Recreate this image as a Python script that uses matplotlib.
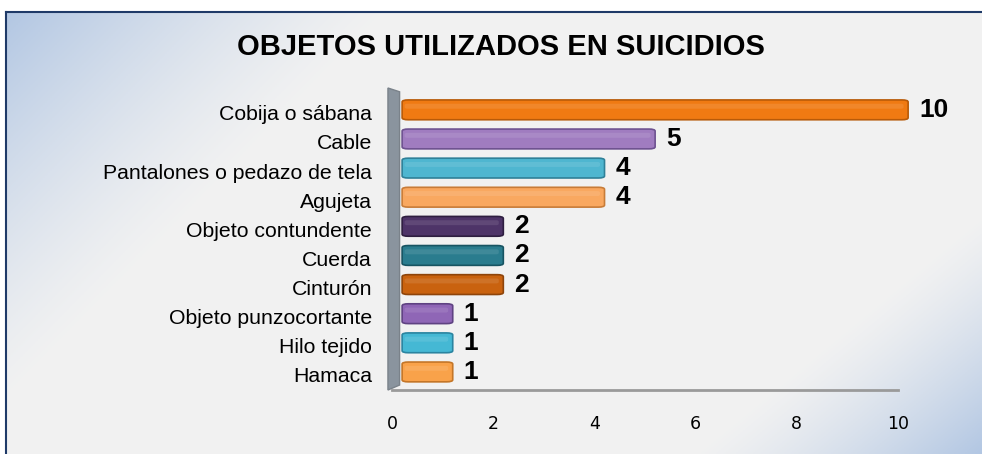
import matplotlib.pyplot as plt
import matplotlib.transforms as mtransforms
import numpy as np
from matplotlib.patches import FancyBboxPatch, Polygon

categories = ['Cobija o sábana', 'Cable', 'Pantalones o pedazo de tela', 'Agujeta',
              'Objeto contundente', 'Cuerda', 'Cinturón', 'Objeto punzocortante',
              'Hilo tejido', 'Hamaca']
values = [10, 5, 4, 4, 2, 2, 2, 1, 1, 1]
colors = ['#f07a12', '#a07cc0', '#4fb6d0', '#f9a860', '#4e3468',
          '#2a7c8e', '#c9620f', '#8f66b6', '#45b8d4', '#f9a24a']
edges = ['#b85a08', '#6e5290', '#2f8098', '#c87c38', '#2e1e40',
         '#175462', '#8e440a', '#5f4282', '#2a84a0', '#c47628']
xticks = [0, 2, 4, 6, 8, 10]

plt.rcParams['font.family'] = ['Liberation Sans', 'DejaVu Sans']

fig = plt.figure(figsize=(9.82, 4.54), dpi=100)

# background panel with soft blue corners
bg = fig.add_axes([6 / 982, 0, 1 - 6 / 982, 1 - 12 / 454])
yy, xx = np.mgrid[0:1:200j, 0:1:400j]
d1 = np.clip(1 - (xx / 0.4 + yy / 0.9), 0, 1) ** 1.3
d2 = np.clip(1 - ((1 - xx) / 0.3 + (1 - yy) / 0.55), 0, 1) ** 1.3
w = np.clip(d1 + d2, 0, 1)[..., None]
c_bg = np.array([0.949, 0.949, 0.949])
c_bl = np.array([0.70, 0.78, 0.89])
img = c_bg * (1 - w) + c_bl * w
bg.imshow(img, extent=[0, 1, 0, 1], aspect='auto', origin='upper')
bg.set_xticks([])
bg.set_yticks([])
for s in ['right', 'bottom']:
    bg.spines[s].set_visible(False)
for s in ['left', 'top']:
    bg.spines[s].set_color('#1f3a68')
    bg.spines[s].set_linewidth(1.5)

fig.text(0.510, 1 - 47 / 454, 'OBJETOS UTILIZADOS EN SUICIDIOS', ha='center', va='center',
         fontsize=21, fontweight='bold')

ax = fig.add_axes([392 / 982, 1 - 390 / 454, 506 / 982, 302 / 454])
ax.patch.set_alpha(0)
n = len(categories)
ypos = np.arange(n)[::-1]
ax.set_xlim(0, 10)
ax.set_ylim(-0.62, n - 1 + 0.75)

depth = 0.2
h = 0.68
# side wall
ax.add_patch(Polygon([(-0.08, -0.62), (0.15, -0.45), (0.15, n - 1 + 0.62), (-0.08, n - 1 + 0.75)],
                     closed=True, facecolor='#8a949e', edgecolor='#7a828a', clip_on=False, zorder=1))

for y, v, c, e in zip(ypos, values, colors, edges):
    ax.add_patch(FancyBboxPatch((depth, y - h / 2), v, h,
                                boxstyle='round,pad=0,rounding_size=0.12',
                                mutation_aspect=0.58,
                                facecolor=c, edgecolor=e, linewidth=1.2, zorder=3,
                                clip_on=False))
    ax.add_patch(FancyBboxPatch((depth + 0.05, y + 0.04), v - 0.14, h * 0.25,
                                boxstyle='round,pad=0,rounding_size=0.05',
                                facecolor='white', edgecolor='none', alpha=0.1, zorder=4,
                                clip_on=False))
    ax.text(v + depth + 0.22, y, str(v), ha='left', va='center', fontsize=19,
            fontweight='bold', zorder=5, clip_on=False)

# category labels, drawn a touch below the bar centres as in the original
shift = mtransforms.ScaledTranslation(-20 / 100, -5 / 100, fig.dpi_scale_trans)
lab_tr = mtransforms.blended_transform_factory(ax.transAxes, ax.transData) + shift
for y, cat in zip(ypos, categories):
    ax.text(0, y, cat, transform=lab_tr, ha='right', va='center', fontsize=15.3,
            clip_on=False)
ax.set_yticks([])
ax.set_xticks(xticks)
ax.set_xticklabels([str(t) for t in xticks], fontsize=12.5, family='DejaVu Sans')
ax.tick_params(axis='both', length=0)
ax.tick_params(axis='x', pad=18)
for s in ['top', 'right', 'left']:
    ax.spines[s].set_visible(False)
ax.spines['bottom'].set_color('#9a9a9a')
ax.spines['bottom'].set_linewidth(2)

fig.savefig('out.png', dpi=100)
